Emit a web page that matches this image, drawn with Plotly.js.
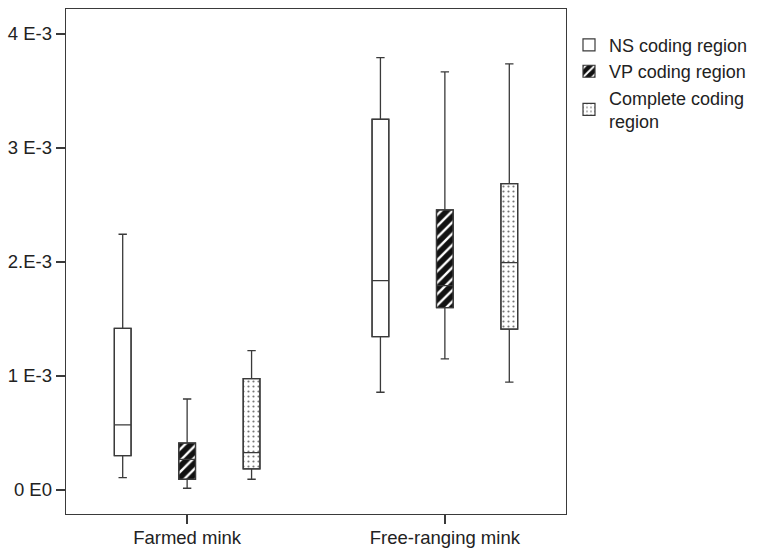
<!DOCTYPE html>
<html>
<head>
<meta charset="utf-8">
<script src="https://cdn.plot.ly/plotly-3.0.1.min.js"></script>
<style>html,body{margin:0;padding:0;background:#fff;}#chart{width:762px;height:549px;}</style>
</head>
<body>
<div id="chart"></div>
<script>
// Categories
var groups = ["Farmed mink", "Free-ranging mink"];
var seriesNames = ["NS coding region", "VP coding region", "Complete coding\nregion"];

// Box statistics
var nsMin = [0.000108, 0.000857];
var nsQ1 = [0.000301, 0.001345];
var nsMed = [0.000570, 0.001836];
var nsQ3 = [0.001418, 0.003252];
var nsMax = [0.002243, 0.003792];

var vpMin = [0.000015, 0.001149];
var vpQ1 = [0.000094, 0.001599];
var vpMed = [0.000269, 0.001792];
var vpQ3 = [0.000412, 0.002456];
var vpMax = [0.000798, 0.003667];

var cpMin = [0.000094, 0.000945];
var cpQ1 = [0.000184, 0.001410];
var cpMed = [0.000327, 0.001994];
var cpQ3 = [0.000976, 0.002687];
var cpMax = [0.001222, 0.003737];

// Y tick labels
var yTickVals = [0, 0.001, 0.002, 0.003, 0.004];
var yTickText = ["0 E0", "1 E-3", "2.E-3", "3 E-3", "4 E-3"];

function diff(a, b) { return a.map(function (v, i) { return v - b[i]; }); }

var FONT = "Liberation Sans, Arial, sans-serif";
var LINE = "#3a3a3a";
var BW = 0.065, OFF = 0.25;
var keys = ["ns", "vp", "cp"];

var stats = [
  {min: nsMin, q1: nsQ1, med: nsMed, q3: nsQ3, max: nsMax},
  {min: vpMin, q1: vpQ1, med: vpMed, q3: vpQ3, max: vpMax},
  {min: cpMin, q1: cpQ1, med: cpMed, q3: cpQ3, max: cpMax}
];
var patterns = [
  {shape: "", bgcolor: "white"},
  {shape: "/", bgcolor: "#111", fgcolor: "white", size: 8, solidity: 0.3},
  {shape: ".", bgcolor: "white", fgcolor: "#777", size: 5, solidity: 0.15}
];

var data = [];
// patterned fills (bars) drawn under the boxes, used for the legend
stats.forEach(function (s, i) {
  data.push({
    type: "bar",
    name: seriesNames[i].replace("\n", "<br>"),
    x: groups,
    base: s.q1,
    y: diff(s.q3, s.q1),
    width: BW,
    offset: (i - 1) * OFF - BW / 2,
    marker: {color: "white", line: {color: LINE, width: 1.2}, pattern: patterns[i]},
    showlegend: true,
    hoverinfo: "skip"
  });
});
// boxes
stats.forEach(function (s, i) {
  data.push({
    type: "box",
    name: seriesNames[i],
    offsetgroup: keys[i],
    alignmentgroup: "boxes",
    x: groups,
    q1: s.q1,
    median: s.med,
    q3: s.q3,
    lowerfence: s.min,
    upperfence: s.max,
    boxpoints: false,
    fillcolor: "rgba(0,0,0,0)",
    line: {color: LINE, width: 1.3},
    whiskerwidth: 0.5,
    showlegend: false
  });
});

var layout = {
  width: 762,
  height: 549,
  margin: {l: 66, r: 191, t: 9, b: 35},
  paper_bgcolor: "white",
  plot_bgcolor: "white",
  font: {family: FONT, size: 18.5, color: "#222"},
  boxmode: "group",
  boxgap: 0.25,
  boxgroupgap: 0.74,
  barmode: "overlay",
  showlegend: true,
  legend: {
    x: 1.006, xanchor: "left", y: 0.965, yanchor: "top",
    font: {family: FONT, size: 18, color: "#222"},
    bgcolor: "rgba(0,0,0,0)",
    traceorder: "normal",
    itemclick: false
  },
  xaxis: {
    type: "category",
    range: [-0.47, 1.47],
    showgrid: false, zeroline: false,
    showline: true, mirror: true, linecolor: LINE, linewidth: 1.3,
    ticks: "outside", ticklen: 9, tickcolor: LINE, tickwidth: 1.3,
    ticklabelstandoff: -3,
    tickfont: {family: FONT, size: 18.5, color: "#222"}
  },
  yaxis: {
    range: [-0.000211, 0.004219],
    tickmode: "array", tickvals: yTickVals, ticktext: yTickText,
    showgrid: false, zeroline: false,
    showline: true, mirror: true, linecolor: LINE, linewidth: 1.3,
    ticks: "outside", ticklen: 9, tickcolor: LINE, tickwidth: 1.3,
    tickfont: {family: FONT, size: 18.5, color: "#222"}
  }
};

Plotly.newPlot("chart", data, layout, {displayModeBar: false, staticPlot: true});
</script>
</body>
</html>
